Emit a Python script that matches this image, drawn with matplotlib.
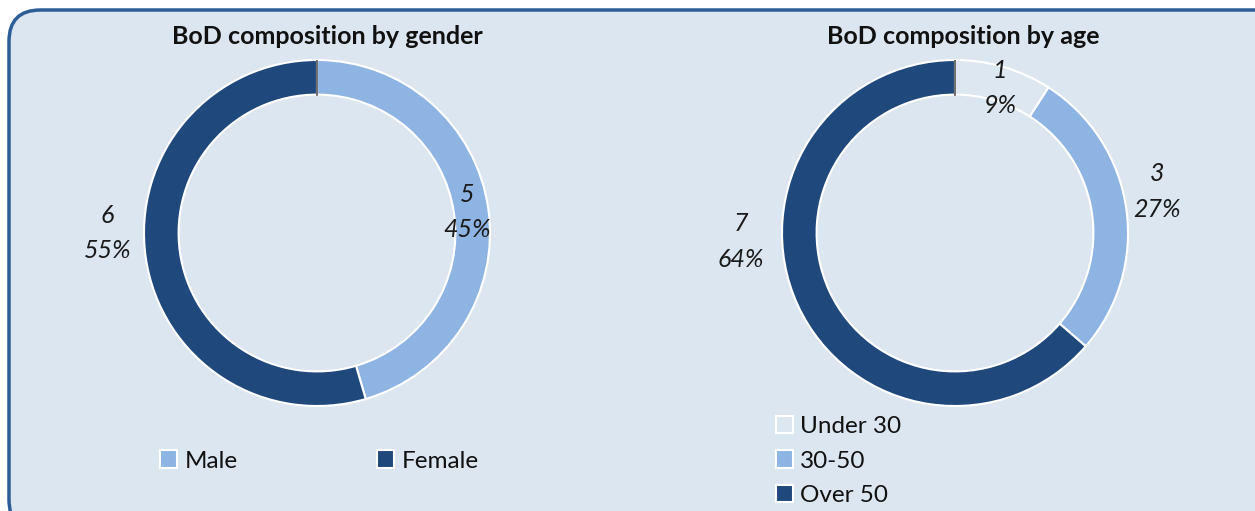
import matplotlib
matplotlib.use("Agg")
import matplotlib.pyplot as plt
from matplotlib.patches import FancyBboxPatch, Patch

plt.rcParams['font.family'] = ['Lato', 'DejaVu Sans']

gender_labels = ["Male", "Female"]
gender_values = [5, 6]
gender_colors = ["#8eb4e3", "#1f497d"]

age_labels = ["Under 30", "30-50", "Over 50"]
age_values = [1, 3, 7]
age_colors = ["#dde7f2", "#8eb4e3", "#1f497d"]

W, H = 1255, 511
fig = plt.figure(figsize=(W / 100, H / 100), dpi=100)
fig.patch.set_facecolor("white")

# panel
panel = FancyBboxPatch((9 / W, -20 / H), 1300 / W, (H - 10 + 20) / H,
                       boxstyle="round,pad=0,rounding_size=0.025",
                       transform=fig.transFigure, facecolor="#dce6f1",
                       edgecolor="#2c5d96", linewidth=2.5, zorder=-10,
                       mutation_aspect=W / H)
fig.patches.append(panel)


def px_axes(cx, cy, r):
    ax = fig.add_axes([(cx - r) / W, (H - cy - r) / H, 2 * r / W, 2 * r / H])
    ax.set_zorder(2)
    return ax


def donut(ax, values, colors, label_pos):
    total = sum(values)
    ax.pie(values, colors=colors, startangle=90, counterclock=False,
           radius=1.0, wedgeprops=dict(width=0.2, edgecolor="white", linewidth=1.5))
    ax.plot([0, 0], [0.8, 1.0], color="#555555", linewidth=1.2, zorder=5)
    for v, (x, y) in zip(values, label_pos):
        ax.text(x, y, f"{v}\n{round(100 * v / total)}%", ha="center", va="center",
                fontsize=18, style="italic", color="#1a1a1a", linespacing=1.65)
    ax.set_xlim(-1, 1)
    ax.set_ylim(-1, 1)
    ax.set_aspect("equal")
    ax.axis("off")


ax1 = px_axes(317, 233, 173)
donut(ax1, gender_values, gender_colors, [(0.87, 0.12), (-1.21, 0.0)])
fig.text(327 / W, 1 - 37 / H, "BoD composition by gender", ha="center", va="center",
         fontsize=18, fontweight="bold", color="#111111")

ax2 = px_axes(955, 233, 173)
donut(ax2, age_values, age_colors, [(0.26, 0.84), (1.17, 0.24), (-1.24, -0.05)])
fig.text(963 / W, 1 - 37 / H, "BoD composition by age", ha="center", va="center",
         fontsize=18, fontweight="bold", color="#111111")

# legends
gh = [Patch(facecolor=c, edgecolor="white", linewidth=1.5, label=l)
      for c, l in zip(gender_colors, gender_labels)]
leg1 = fig.legend(handles=gh, loc="center left", bbox_to_anchor=(160 / W, 1 - 461 / H),
                  ncol=2, frameon=False, fontsize=17.5, handlelength=0.7, handleheight=0.7,
                  handletextpad=0.3, columnspacing=5.75, borderpad=0, borderaxespad=0)
ah = [Patch(facecolor=c, edgecolor="white", linewidth=1.5, label=l)
      for c, l in zip(age_colors, age_labels)]
leg2 = fig.legend(handles=ah, loc="center left", bbox_to_anchor=(776 / W, 1 - 461 / H),
                  ncol=1, frameon=False, fontsize=17.5, handlelength=0.7, handleheight=0.7,
                  handletextpad=0.3, labelspacing=0.57, borderpad=0, borderaxespad=0)
for lg in (leg1, leg2):
    lg.set_zorder(3)
    for t in lg.get_texts():
        t.set_color("#111111")

fig.savefig("out.png", dpi=100, facecolor="white")
